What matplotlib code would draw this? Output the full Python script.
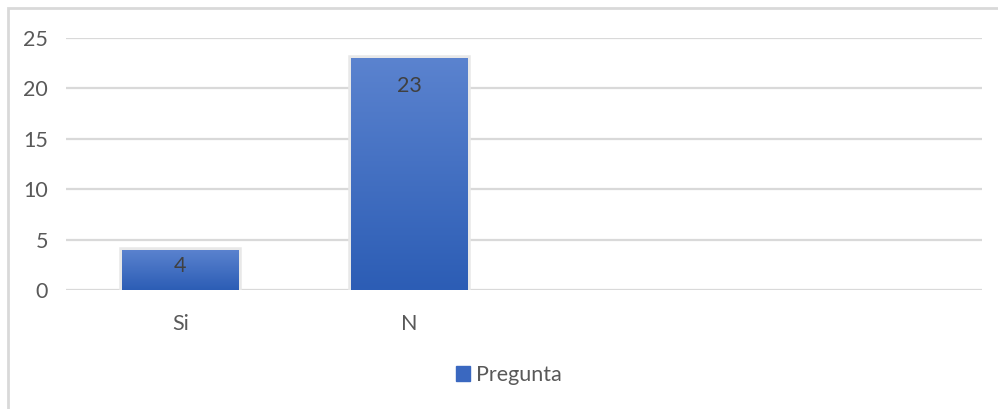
import matplotlib
matplotlib.use("Agg")
import matplotlib.pyplot as plt
import numpy as np
from matplotlib.colors import LinearSegmentedColormap
from matplotlib.patches import Rectangle

# data
categories = ["Si", "N", "", ""]
values = [4, 23, 0, 0]
series_name = "Pregunta"
yticks = [0, 5, 10, 15, 20, 25]

plt.rcParams['font.family'] = ['Lato', 'DejaVu Sans']
text_color = '#595959'

fig = plt.figure(figsize=(9.98, 4.09), dpi=100)
ax = fig.add_axes([0.066, 0.291, 0.918, 0.617])

x = np.arange(len(categories))
width = 0.51

# soft shadow behind non-empty bars
shown = [i for i, v in enumerate(values) if v > 0]
ax.bar(x[shown], [values[i] for i in shown], width=width, color='none',
       edgecolor='#E8E8E8', linewidth=4, zorder=2)
bars = ax.bar(x, values, width=width, color='#4472C4', zorder=3,
              label=series_name)

# vertical gradient inside each bar
cmap = LinearSegmentedColormap.from_list('blu', ['#2C5DB5', '#5B83CF'])
grad = np.linspace(0, 1, 256).reshape(-1, 1)
for b, v in zip(bars, values):
    if v <= 0:
        b.set_visible(False)
        continue
    im = ax.imshow(grad, cmap=cmap, aspect='auto', origin='lower',
                   extent=[b.get_x(), b.get_x() + b.get_width(), 0, v],
                   zorder=4)
    im.set_clip_path(b)
    ax.text(b.get_x() + b.get_width() / 2, max(v - 2.8, v * 0.6), str(v),
            ha='center', va='center', fontsize=15.5, color='#404040', zorder=5)

ax.set_xlim(-0.5, len(categories) - 0.5)
ax.set_ylim(0, 25)
ax.set_yticks(yticks)
ax.set_xticks(x)
ax.set_xticklabels(categories)
ax.tick_params(axis='both', length=0, labelsize=15.5, colors=text_color)
ax.tick_params(axis='y', pad=13)
ax.tick_params(axis='x', pad=17)
ax.grid(axis='y', color='#D9D9D9', linewidth=1.6, zorder=0)
ax.set_axisbelow(True)
for s in ax.spines.values():
    s.set_visible(False)

leg = fig.legend(handles=[bars], labels=[series_name], loc='center',
                 bbox_to_anchor=(0.51, 0.083), frameon=False, fontsize=15.5,
                 handlelength=0.65, handleheight=0.65, handletextpad=0.3)
for t in leg.get_texts():
    t.set_color(text_color)
leg.legend_handles[0].set_color('#3A68C0')

# chart border (top and left visible)
fig.patches.append(Rectangle((0.008, -0.1), 1.2, 1.08, transform=fig.transFigure,
                             fill=False, edgecolor='#D9D9D9', linewidth=2))

fig.savefig("out.png", dpi=100)
